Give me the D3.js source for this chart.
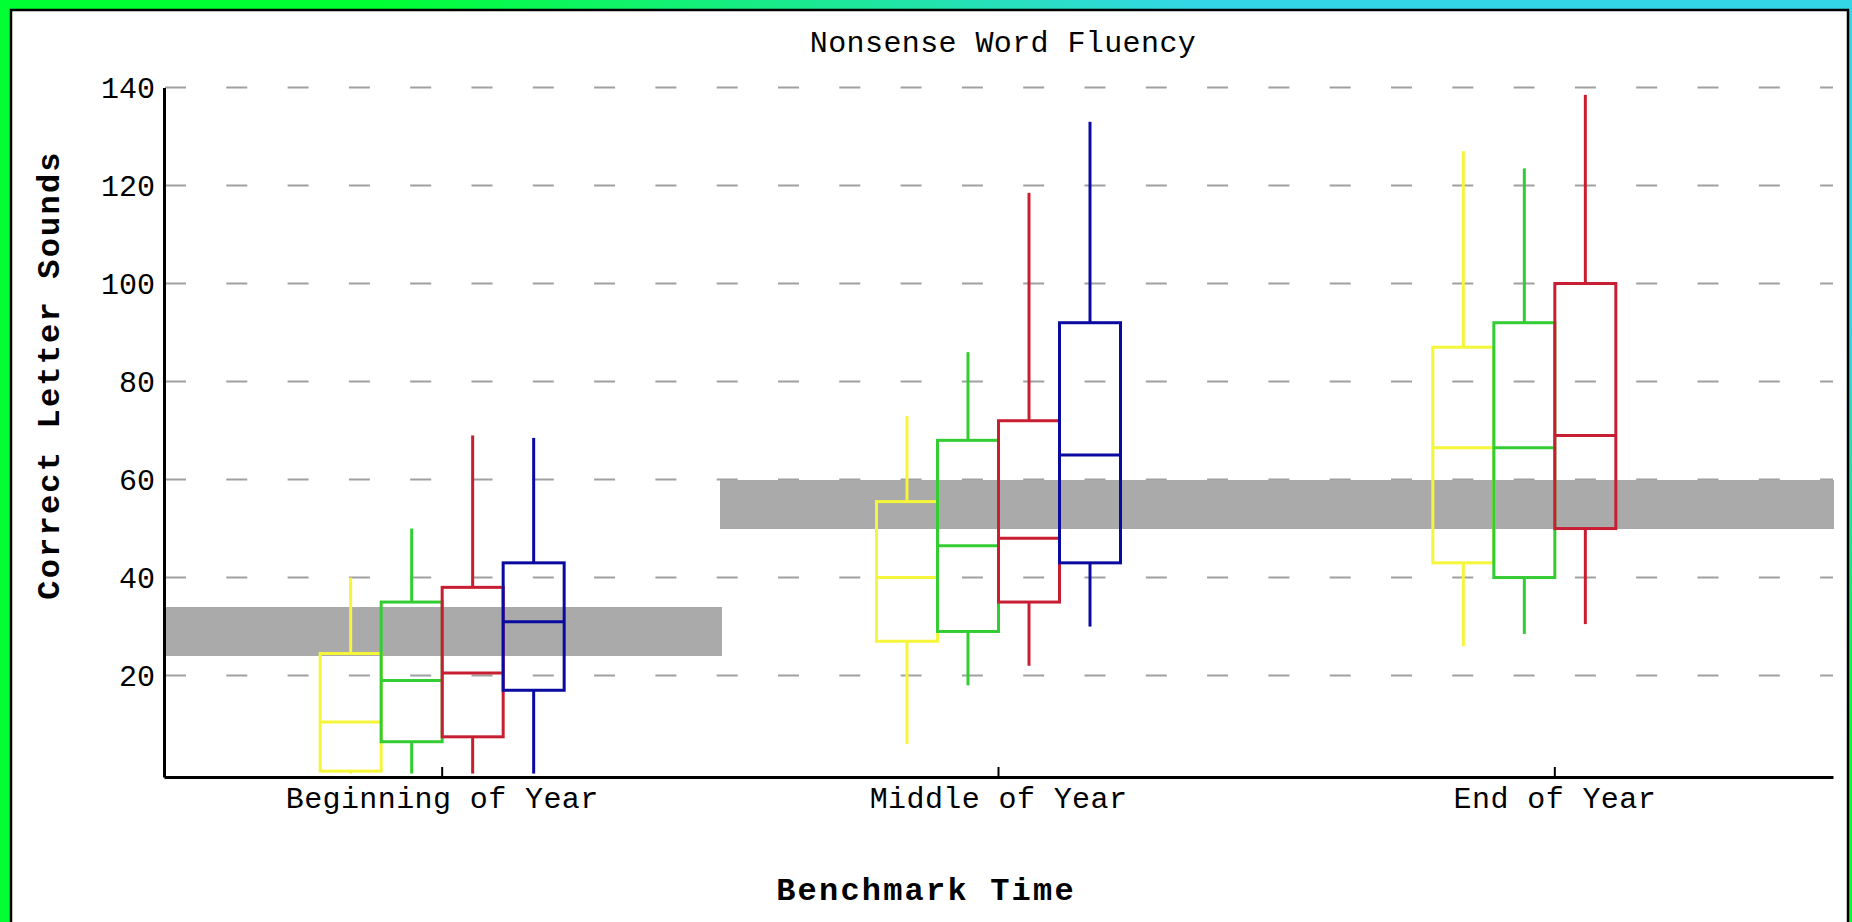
<!DOCTYPE html>
<html>
<head>
<meta charset="utf-8">
<script src="https://cdn.jsdelivr.net/npm/d3@7"></script>
<style>
  html, body { margin: 0; padding: 0; background: #fff; overflow: hidden; }
  svg { display: block; }
  text { font-family: "Liberation Mono", "DejaVu Sans Mono", monospace; fill: #000; }
</style>
</head>
<body>
<script>
// ---------------- data ----------------
const categories = ["Beginning of Year", "Middle of Year", "End of Year"];
const seriesKeys = ["series1", "series2", "series3", "series4"];
const seriesColors = ["#f5f53a", "#33cc33", "#c81e32", "#0a0aa0"];

// each entry: [min, q1, median, q3, max] per category (null = no data)
const series1Values = [[0, 0.5, 10.5, 24.5, 40], [6, 27, 40, 55.5, 73], [26, 43, 66.5, 87, 127]];
const series2Values = [[0, 6.5, 19, 35, 50], [18, 29, 46.5, 68, 86], [28.5, 40, 66.5, 92, 123.5]];
const series3Values = [[0, 7.5, 20.5, 38, 69], [22, 35, 48, 72, 118.5], [30.5, 50, 69, 100, 138.5]];
const series4Values = [[0, 17, 31, 43, 68.5], [30, 43, 65, 92, 133], null];

const benchmarkLow = [24, 50, 50];
const benchmarkHigh = [34, 60, 60];

const yTickValues = [20, 40, 60, 80, 100, 120, 140];
const titleText = "Nonsense Word Fluency";
const xTitleText = "Benchmark Time";
const yTitleText = "Correct Letter Sounds";

// ---------------- layout ----------------
const W = 1852, H = 922;
const plotLeft = 164, plotRight = 1833, plotTop = 87.5, plotBottom = 777;

const svg = d3.select("body").append("svg").attr("width", W).attr("height", H);

const defs = svg.append("defs");
const grad = defs.append("linearGradient").attr("id", "frameGrad")
  .attr("x1", 0).attr("y1", 1).attr("x2", 1).attr("y2", 0);
grad.append("stop").attr("offset", 0).attr("stop-color", "#00ff33");
grad.append("stop").attr("offset", 0.6).attr("stop-color", "#00ff33");
grad.append("stop").attr("offset", 0.82).attr("stop-color", "#33d6e6");
grad.append("stop").attr("offset", 1).attr("stop-color", "#33d6e6");

svg.append("rect").attr("x", 0).attr("y", 0).attr("width", W).attr("height", H)
  .attr("fill", "url(#frameGrad)");
svg.append("rect").attr("x", 11).attr("y", 10).attr("width", 1837).attr("height", 940)
  .attr("fill", "#fff").attr("stroke", "#000").attr("stroke-width", 2.5);

// scales
const x = d3.scaleBand().domain(categories).range([plotLeft, plotRight]).padding(0);
const xs = d3.scaleBand().domain(seriesKeys).range([-122, 122]).padding(0);
const y = d3.scaleLinear().domain([-0.7, 140]).range([plotBottom, plotTop]);

const allSeries = [series1Values, series2Values, series3Values, series4Values];

// gridlines
svg.append("g").selectAll("line").data(yTickValues).join("line")
  .attr("x1", plotLeft + 1).attr("x2", plotRight)
  .attr("y1", d => y(d)).attr("y2", d => y(d))
  .attr("stroke", "#a0a0a0").attr("stroke-width", 2)
  .attr("stroke-dasharray", "21,40.3");

// benchmark bands
svg.append("g").attr("shape-rendering", "crispEdges")
  .selectAll("rect").data(categories).join("rect")
  .attr("x", d => Math.floor(x(d))).attr("width", Math.ceil(x.bandwidth()) + 1)
  .attr("y", (d, i) => y(benchmarkHigh[i]))
  .attr("height", (d, i) => y(benchmarkLow[i]) - y(benchmarkHigh[i]))
  .attr("fill", "#aaaaaa");

// boxes
const boxData = [];
allSeries.forEach((vals, si) => {
  vals.forEach((v, ci) => {
    if (v) boxData.push({ s: seriesKeys[si], color: seriesColors[si], c: categories[ci],
      min: v[0], q1: v[1], med: v[2], q3: v[3], max: v[4] });
  });
});

const gBox = svg.append("g");
const boxes = gBox.selectAll("g").data(boxData).join("g");
const left = d => x(d.c) + x.bandwidth() / 2 + xs(d.s);
const cx = d => left(d) + xs.bandwidth() / 2;

boxes.append("line")
  .attr("x1", cx).attr("x2", cx)
  .attr("y1", d => y(d.max)).attr("y2", d => y(d.q3))
  .attr("stroke", d => d.color).attr("stroke-width", 3);
boxes.append("line")
  .attr("x1", cx).attr("x2", cx)
  .attr("y1", d => y(d.q1)).attr("y2", d => y(d.min))
  .attr("stroke", d => d.color).attr("stroke-width", 3);
boxes.append("rect")
  .attr("x", left).attr("width", xs.bandwidth())
  .attr("y", d => y(d.q3)).attr("height", d => y(d.q1) - y(d.q3))
  .attr("fill", "none").attr("stroke", d => d.color).attr("stroke-width", 3);
boxes.append("line")
  .attr("x1", left).attr("x2", d => left(d) + xs.bandwidth())
  .attr("y1", d => y(d.med)).attr("y2", d => y(d.med))
  .attr("stroke", d => d.color).attr("stroke-width", 3);

// axes
const xAxis = svg.append("g").attr("transform", `translate(0,${plotBottom})`)
  .call(d3.axisBottom(x).tickSizeInner(-10).tickSizeOuter(0).tickPadding(10));
xAxis.select(".domain").attr("stroke", "#000").attr("stroke-width", 3);
xAxis.selectAll(".tick line").attr("stroke", "#000").attr("stroke-width", 2);
xAxis.selectAll(".tick text").attr("font-size", 30).attr("font-family", "Liberation Mono")
  .attr("letter-spacing", 0.4).attr("fill", "#000");

const yAxis = svg.append("g").attr("transform", `translate(${plotLeft},0)`)
  .call(d3.axisLeft(y).tickValues(yTickValues).tickSize(0).tickPadding(9));
yAxis.select(".domain").attr("stroke", "#000").attr("stroke-width", 3);
yAxis.selectAll(".tick text").attr("font-size", 30).attr("font-family", "Liberation Mono")
  .attr("fill", "#000");

// titles
svg.append("text").attr("x", 1003).attr("y", 52).attr("text-anchor", "middle")
  .attr("font-size", 30).attr("letter-spacing", 0.4).text(titleText);
svg.append("text").attr("x", 926).attr("y", 900).attr("text-anchor", "middle")
  .attr("font-size", 32).attr("font-weight", "bold").attr("letter-spacing", 2.2).text(xTitleText);
svg.append("text").attr("transform", "translate(59,375) rotate(-90)").attr("text-anchor", "middle")
  .attr("font-size", 32).attr("font-weight", "bold").attr("letter-spacing", 2.2).text(yTitleText);
</script>
</body>
</html>
